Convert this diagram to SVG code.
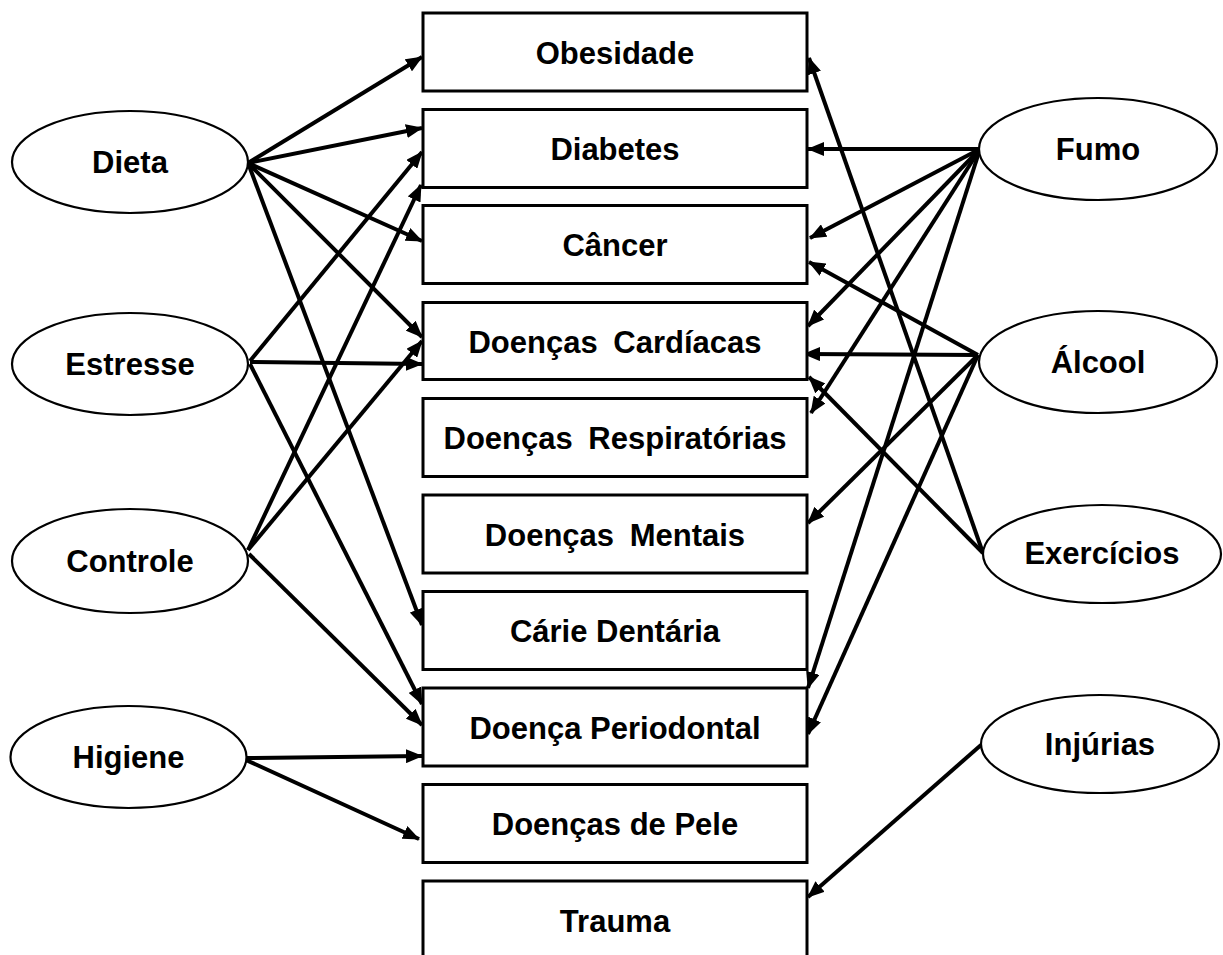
<svg xmlns="http://www.w3.org/2000/svg" width="1223" height="955" viewBox="0 0 1223 955">
  <style>
    .box { fill: #ffffff; stroke: #000000; stroke-width: 3; }
    .oval { fill: #ffffff; stroke: #000000; stroke-width: 2.2; }
    .lbl { font-family: "Liberation Sans", Arial, sans-serif; font-weight: bold; font-size: 31px; fill: #000000; text-anchor: middle; }
    .wide { word-spacing: 7px; }
    .edge { stroke: #000000; stroke-width: 4; fill: none; marker-end: url(#arrow); }
  </style>
  <defs>
    <marker id="arrow" markerUnits="userSpaceOnUse" markerWidth="18" markerHeight="14" refX="16" refY="7" orient="auto">
      <path d="M0,0 L17,7 L0,14 z" fill="#000000"/>
    </marker>
  </defs>
  <rect width="1223" height="955" fill="#ffffff"/>

  <!-- connectors -->
  <g id="connectors">
    <!-- Dieta -->
    <line class="edge" x1="248" y1="163" x2="422" y2="57"/>
    <line class="edge" x1="248" y1="163" x2="422" y2="128"/>
    <line class="edge" x1="248" y1="163" x2="422" y2="241"/>
    <line class="edge" x1="248" y1="163" x2="422" y2="337"/>
    <line class="edge" x1="248" y1="163" x2="422" y2="625"/>
    <!-- Estresse -->
    <line class="edge" x1="250" y1="361" x2="422" y2="152"/>
    <line class="edge" x1="250" y1="362" x2="422" y2="364"/>
    <line class="edge" x1="250" y1="364" x2="422" y2="704"/>
    <!-- Controle -->
    <line class="edge" x1="248" y1="550" x2="421" y2="185"/>
    <line class="edge" x1="248" y1="550" x2="422" y2="341"/>
    <line class="edge" x1="249" y1="554" x2="422" y2="725"/>
    <!-- Higiene -->
    <line class="edge" x1="246" y1="758" x2="422" y2="756"/>
    <line class="edge" x1="246" y1="760" x2="419" y2="839"/>
    <!-- Fumo -->
    <line class="edge" x1="980" y1="149" x2="808" y2="149"/>
    <line class="edge" x1="980" y1="149" x2="810" y2="238"/>
    <line class="edge" x1="980" y1="149" x2="808" y2="326"/>
    <line class="edge" x1="980" y1="149" x2="811" y2="413"/>
    <line class="edge" x1="980" y1="149" x2="808" y2="688"/>
    <!-- Álcool -->
    <line class="edge" x1="978" y1="355" x2="809" y2="262"/>
    <line class="edge" x1="978" y1="355" x2="804" y2="354"/>
    <line class="edge" x1="978" y1="355" x2="808" y2="523"/>
    <line class="edge" x1="978" y1="355" x2="808" y2="734"/>
    <!-- Exercícios -->
    <line class="edge" x1="983" y1="553" x2="809" y2="58"/>
    <line class="edge" x1="983" y1="553" x2="809" y2="377"/>
    <!-- Injúrias -->
    <line class="edge" x1="981" y1="745" x2="808" y2="897"/>
  </g>

  <!-- outcome boxes -->
  <g id="obesidade"><rect class="box" x="423" y="13" width="384" height="78"/><text class="lbl" x="615" y="64">Obesidade</text></g>
  <g id="diabetes"><rect class="box" x="423" y="109.5" width="384" height="78"/><text class="lbl" x="615" y="160">Diabetes</text></g>
  <g id="cancer"><rect class="box" x="423" y="205.5" width="384" height="78"/><text class="lbl" x="615" y="256">Câncer</text></g>
  <g id="doencas-cardiacas"><rect class="box" x="423" y="302.5" width="384" height="77"/><text class="lbl wide" x="615" y="352.5">Doenças Cardíacas</text></g>
  <g id="doencas-respiratorias"><rect class="box" x="423" y="398.5" width="384" height="78"/><text class="lbl wide" x="615" y="449">Doenças Respiratórias</text></g>
  <g id="doencas-mentais"><rect class="box" x="423" y="495" width="384" height="78"/><text class="lbl wide" x="615" y="545.5">Doenças Mentais</text></g>
  <g id="carie-dentaria"><rect class="box" x="423" y="591.5" width="384" height="78"/><text class="lbl" x="615" y="642">Cárie Dentária</text></g>
  <g id="doenca-periodontal"><rect class="box" x="423" y="688" width="384" height="78"/><text class="lbl" x="615" y="738.5">Doença Periodontal</text></g>
  <g id="doencas-de-pele"><rect class="box" x="423" y="784.5" width="384" height="78"/><text class="lbl" x="615" y="835">Doenças de Pele</text></g>
  <g id="trauma"><rect class="box" x="423" y="881" width="384" height="78"/><text class="lbl" x="615" y="931.5">Trauma</text></g>

  <!-- risk factor ovals, left -->
  <g id="dieta"><ellipse class="oval" cx="130" cy="162" rx="118" ry="51"/><text class="lbl" x="130" y="173">Dieta</text></g>
  <g id="estresse"><ellipse class="oval" cx="130" cy="364" rx="118" ry="51"/><text class="lbl" x="130" y="375">Estresse</text></g>
  <g id="controle"><ellipse class="oval" cx="130" cy="561" rx="118" ry="52"/><text class="lbl" x="130" y="572">Controle</text></g>
  <g id="higiene"><ellipse class="oval" cx="128.5" cy="757" rx="118" ry="51"/><text class="lbl" x="128.5" y="768">Higiene</text></g>

  <!-- risk factor ovals, right -->
  <g id="fumo"><ellipse class="oval" cx="1098" cy="149" rx="119" ry="51"/><text class="lbl" x="1098" y="160">Fumo</text></g>
  <g id="alcool"><ellipse class="oval" cx="1098" cy="362" rx="119" ry="51"/><text class="lbl" x="1098" y="373">Álcool</text></g>
  <g id="exercicios"><ellipse class="oval" cx="1102" cy="554" rx="119" ry="49"/><text class="lbl" x="1102" y="564">Exercícios</text></g>
  <g id="injurias"><ellipse class="oval" cx="1100" cy="744" rx="119" ry="49"/><text class="lbl" x="1100" y="755">Injúrias</text></g>
</svg>
